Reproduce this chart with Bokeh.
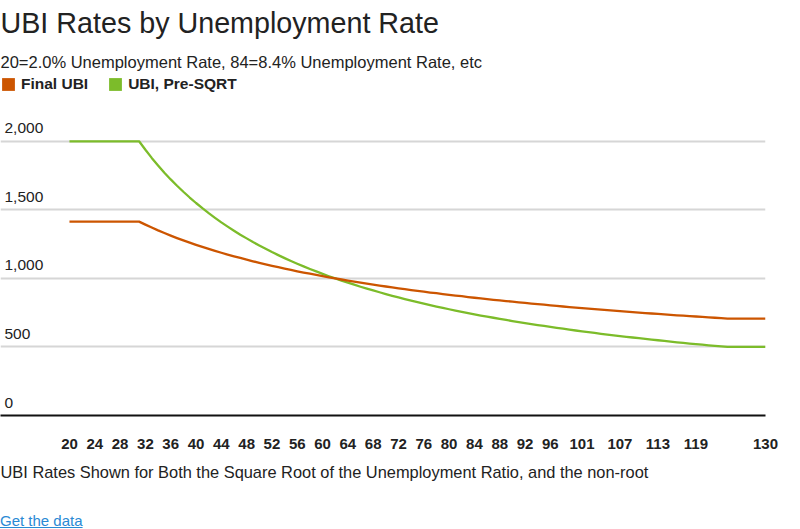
from bokeh.plotting import figure
from bokeh.models import (Range1d, FixedTicker, Title, Legend, LegendItem,
                          ColumnDataSource, Div)
from bokeh.layouts import column
from bokeh.core.properties import value
from bokeh.embed import file_html
from bokeh.resources import INLINE

# ---------------- data ----------------
unemp_ratio = [20, 21, 22, 23, 24, 25, 26, 27, 28, 29, 30, 31, 32, 33, 34, 35,
               36, 37, 38, 39, 40, 41, 42, 43, 44, 45, 46, 47, 48, 49, 50, 51,
               52, 53, 54, 55, 56, 57, 58, 59, 60, 61, 62, 63, 64, 65, 66, 67,
               68, 69, 70, 71, 72, 73, 74, 75, 76, 77, 78, 79, 80, 81, 82, 83,
               84, 85, 86, 87, 88, 89, 90, 91, 92, 93, 94, 95, 96, 97, 98, 99,
               100, 101, 102, 103, 104, 105, 106, 107, 108, 109, 110, 111, 112,
               113, 114, 115, 116, 117, 118, 119, 120, 121, 122, 123, 124, 125,
               126, 127, 128, 129, 130]

final_ubi = [1414, 1414, 1414, 1414, 1414, 1414, 1414, 1414, 1414, 1414, 1414,
             1414, 1392, 1371, 1350, 1331, 1312, 1294, 1277, 1261, 1245, 1230,
             1215, 1201, 1187, 1174, 1161, 1149, 1137, 1125, 1114, 1103, 1092,
             1082, 1072, 1062, 1052, 1043, 1034, 1025, 1017, 1008, 1000, 992,
             984, 977, 969, 962, 955, 948, 941, 934, 928, 922, 915, 909, 903,
             897, 892, 886, 880, 875, 870, 864, 859, 854, 849, 844, 839, 835,
             830, 825, 821, 816, 812, 808, 804, 799, 795, 791, 787, 783, 780,
             776, 772, 768, 765, 761, 758, 754, 751, 747, 744, 741, 737, 734,
             731, 728, 725, 722, 719, 716, 713, 710, 707, 707, 707, 707, 707,
             707, 707]

ubi_pre_sqrt = [2000, 2000, 2000, 2000, 2000, 2000, 2000, 2000, 2000, 2000,
                2000, 2000, 1938, 1879, 1824, 1771, 1722, 1676, 1632, 1590,
                1550, 1512, 1476, 1442, 1409, 1378, 1348, 1319, 1292, 1265,
                1240, 1216, 1192, 1170, 1148, 1127, 1107, 1088, 1069, 1051,
                1033, 1016, 1000, 984, 969, 954, 939, 925, 912, 899, 886, 873,
                861, 849, 838, 827, 816, 805, 795, 785, 775, 765, 756, 747, 738,
                729, 721, 713, 705, 697, 689, 681, 674, 667, 660, 653, 646, 639,
                633, 626, 620, 614, 608, 602, 596, 590, 585, 579, 574, 569, 564,
                559, 554, 549, 544, 539, 534, 530, 525, 521, 517, 512, 508, 504,
                500, 500, 500, 500, 500, 500, 500]

x_tick_values = [20, 24, 28, 32, 36, 40, 44, 48, 52, 56, 60, 64, 68, 72, 76,
                 80, 84, 88, 92, 96, 101, 107, 113, 119, 130]
y_tick_values = [0, 500, 1000, 1500, 2000]
y_tick_labels = ["0", "500", "1,000", "1,500", "2,000"]

series_names = ["Final UBI", "UBI, Pre-SQRT"]
series_colors = ["#cc5500", "#7cbc2a"]

title_text = "UBI Rates by Unemployment Rate"
subtitle_text = "20=2.0% Unemployment Rate, 84=8.4% Unemployment Rate, etc"
caption_text = ("UBI Rates Shown for Both the Square Root of the Unemployment "
                "Ratio, and the non-root")

FONT = "Liberation Sans"
X_START, X_END = 9.1, 130
Y_START, Y_END = 0, 2480

p = figure(width=784, height=489, output_backend="svg", toolbar_location=None,
           x_range=Range1d(X_START, X_END), y_range=Range1d(Y_START, Y_END),
           min_border_left=0, min_border_right=19, min_border_top=0,
           min_border_bottom=0)
p.outline_line_color = None
p.background_fill_color = "white"
p.border_fill_color = "white"

# titles (first added = closest to the plot)
p.add_layout(Title(text=subtitle_text, text_font=FONT, text_font_size="16.5px",
                   text_font_style="normal", text_color="#222222",
                   standoff=9, offset=0), "above")
p.add_layout(Title(text=title_text, text_font=FONT, text_font_size="28.7px",
                   text_font_style="normal", text_color="#222222",
                   vertical_align="top", standoff=12, offset=0), "above")

# x axis
xa = p.xaxis[0]
xa.ticker = FixedTicker(ticks=x_tick_values)
xa.axis_line_color = "#111111"
xa.axis_line_width = 2
xa.major_tick_line_color = None
xa.minor_tick_line_color = None
xa.major_tick_out = 0
xa.major_label_standoff = 23
xa.major_label_text_font = FONT
xa.major_label_text_font_style = "bold"
xa.major_label_text_font_size = "15px"
xa.major_label_text_color = "#222222"

p.add_layout(Title(text=caption_text, text_font=FONT, text_font_size="16.4px",
                   text_font_style="normal", text_color="#222222",
                   standoff=18, offset=0), "below")

# y axis hidden, grid kept
p.yaxis.visible = False
p.xgrid.visible = False
p.ygrid.ticker = FixedTicker(ticks=y_tick_values[1:])
p.ygrid.grid_line_color = "#d6d6d6"
p.ygrid.grid_line_width = 2

# y tick labels drawn inside the plot area
ylab_src = ColumnDataSource(dict(x=[X_START] * len(y_tick_values),
                                 y=y_tick_values, text=y_tick_labels))
p.text(x="x", y="y", text="text", source=ylab_src, x_offset=4, y_offset=-13,
       text_baseline="alphabetic", text_align="left",
       text_font=value(FONT), text_font_size="15.5px", text_color="#222222")

# lines
src = ColumnDataSource(dict(x=unemp_ratio, final=final_ubi, pre=ubi_pre_sqrt))
p.line("x", "pre", source=src, line_color=series_colors[1], line_width=2.3,
       line_join="round")
p.line("x", "final", source=src, line_color=series_colors[0], line_width=2.3,
       line_join="round")

# legend swatches (square, zero-size in the plot)
sw0 = p.rect("x", "final", width=0, height=0, source=src,
             fill_color=series_colors[0], line_color=None)
sw1 = p.rect("x", "pre", width=0, height=0, source=src,
             fill_color=series_colors[1], line_color=None)
legend = Legend(items=[LegendItem(label=series_names[0], renderers=[sw0]),
                       LegendItem(label=series_names[1], renderers=[sw1])],
                orientation="horizontal", location="top_left", margin=0,
                padding=0, spacing=19, glyph_width=16, glyph_height=16,
                label_standoff=5, label_height=16,
                label_text_font=FONT, label_text_font_style="bold",
                label_text_font_size="15.5px", label_text_color="#222222",
                background_fill_alpha=0, border_line_alpha=0)
p.add_layout(legend, "center")

link = Div(text='<a href="#" style="color:#2a8ad4;text-decoration:underline;">'
                'Get the data</a>',
           width=200, height=38, margin=(0, 0, 0, 0),
           styles={"font-family": FONT, "font-size": "15px",
                   "padding-top": "21px"})

layout = column(p, link, spacing=0)

open("out.html", "w").write(file_html(layout, INLINE))
